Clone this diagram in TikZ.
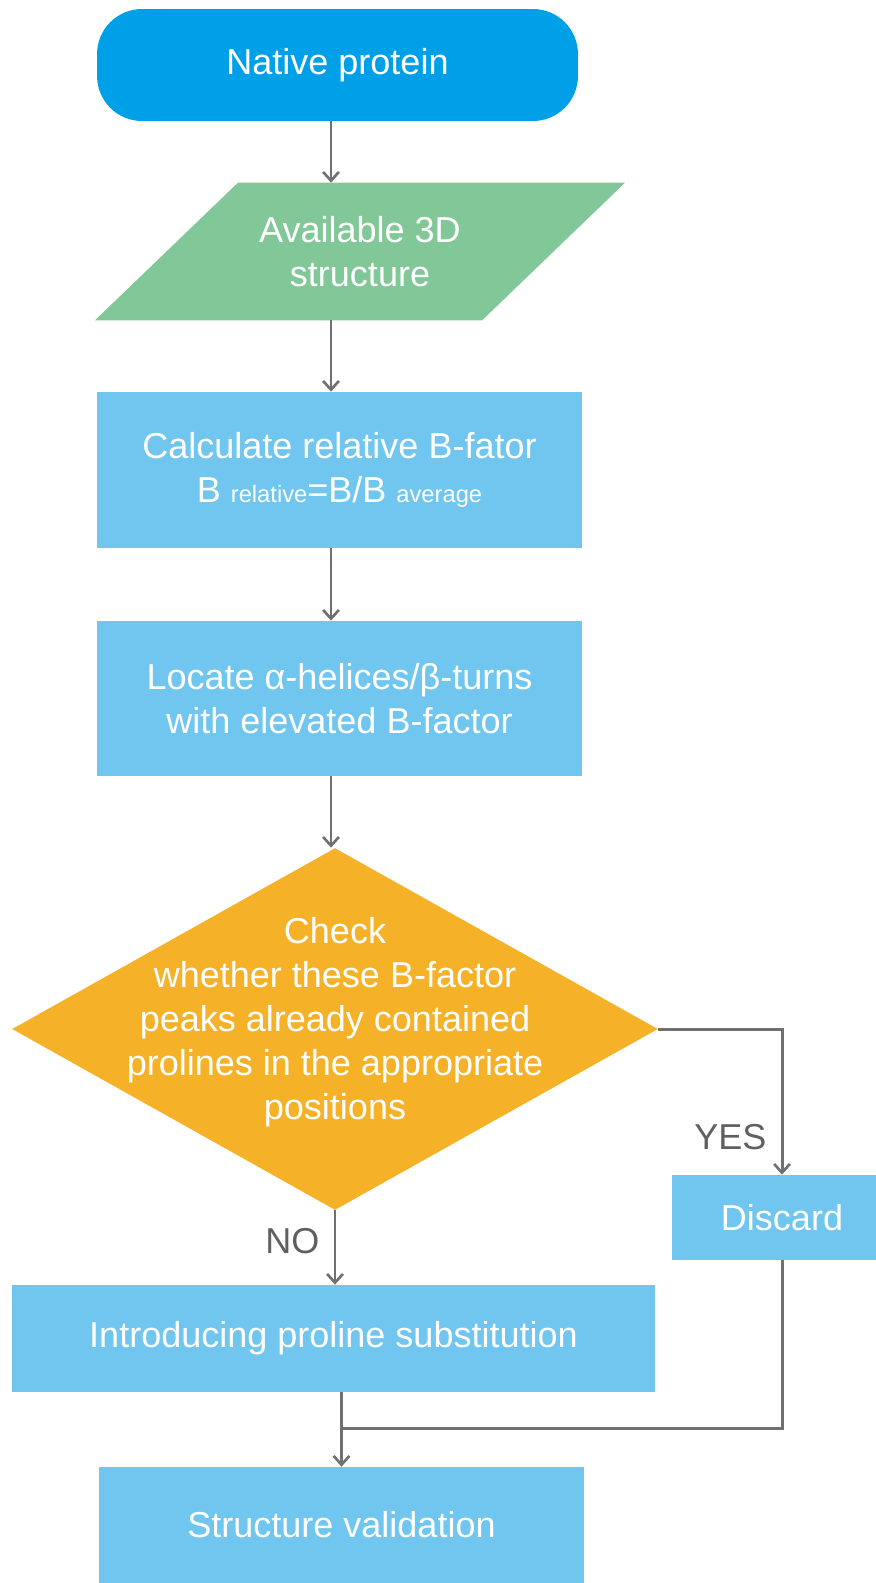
\documentclass[tikz,border=0pt]{standalone}
\usepackage{fontspec}
\setmainfont{Liberation Sans}
\usepackage{tikz}
\usetikzlibrary{arrows.meta,positioning,shapes.geometric,backgrounds}
\definecolor{StartBlue}{RGB}{0,160,233}
\definecolor{InputGreen}{RGB}{130,199,152}
\definecolor{StepBlue}{RGB}{112,198,238}
\definecolor{CheckOrange}{RGB}{245,178,41}
\definecolor{LineGray}{RGB}{112,112,112}
\definecolor{LabelGray}{RGB}{96,96,96}

\begin{document}
\begin{tikzpicture}[
    x=0.02cm, y=-0.02cm,
    every node/.style={font=\fontsize{20.5}{25}\selectfont, text=white, align=center, inner sep=0pt},
    startbox/.style={fill=StartBlue, rounded corners=0.9cm, minimum width=9.62cm, minimum height=2.24cm},
    inputbox/.style={minimum width=7.73cm, minimum height=2.74cm},
    stepbox/.style={fill=StepBlue, minimum width=9.7cm},
    checkbox/.style={fill=CheckOrange, diamond, minimum width=12.92cm, minimum height=7.24cm},
    lbl/.style={text=LabelGray},
    line/.style={LineGray, line width=1.7pt},
    arr/.style={line, -{Straight Barb[length=5pt, width=9pt, line width=1.5pt]}}
]
    \useasboundingbox (0,0) rectangle (876,1583);
    \coordinate (axis) at (331,0);

    \node[startbox] (native) at (337.5,65) {Native protein};
    \node[inputbox] (avail) at (360,251.5) {Available 3D\\structure};
    \begin{scope}[on background layer]
        \fill[InputGreen] ([xshift=-1.43cm]avail.south west) -- ([xshift=1.43cm]avail.north west)
            -- ([xshift=1.43cm]avail.north east) -- ([xshift=-1.43cm]avail.south east) -- cycle;
    \end{scope}
    \node[stepbox, minimum height=3.12cm] (calc) at (339.5,470)
        {Calculate relative B-fator\\B {\fontsize{13.5}{16}\selectfont relative}=B/B {\fontsize{13.5}{16}\selectfont average}};
    \node[stepbox, minimum height=3.1cm] (locate) at (339.5,698.5)
        {Locate α-helices/β-turns\\with elevated B-factor};
    \node[checkbox] (check) at (335,1029) {};
    \node (checktext) at (335,1022)
        {Check\\whether these B-factor\\peaks already contained\\prolines in the appropriate\\positions};
    \node[fill=StepBlue, minimum width=4.4cm, minimum height=1.7cm] (discard) at (782,1217.5) {Discard};
    \node[fill=StepBlue, minimum width=12.86cm, minimum height=2.14cm] (intro) at (333.5,1338.5)
        {Introducing proline substitution};
    \node[stepbox, minimum height=2.32cm] (valid) at (341.5,1525) {Structure validation};
    \coordinate (join) at (341.5,1428);

    \draw[arr] (native.south -| axis) -- (avail.north -| axis);
    \draw[arr] (avail.south -| axis) -- (calc.north -| axis);
    \draw[arr] (calc.south -| axis) -- (locate.north -| axis);
    \draw[arr] (locate.south -| axis) -- (check.north -| axis);
    \draw[arr] (check.east) -| node[lbl, pos=0.87, left=8pt] {YES} (discard.north);
    \draw[arr] (check.south) -- node[lbl, pos=0.42, left=8pt] {NO} (check.south |- intro.north);
    \draw[line] (discard.south) |- (join);
    \draw[arr] (intro.south -| join) -- (valid.north);
\end{tikzpicture}
\end{document}
